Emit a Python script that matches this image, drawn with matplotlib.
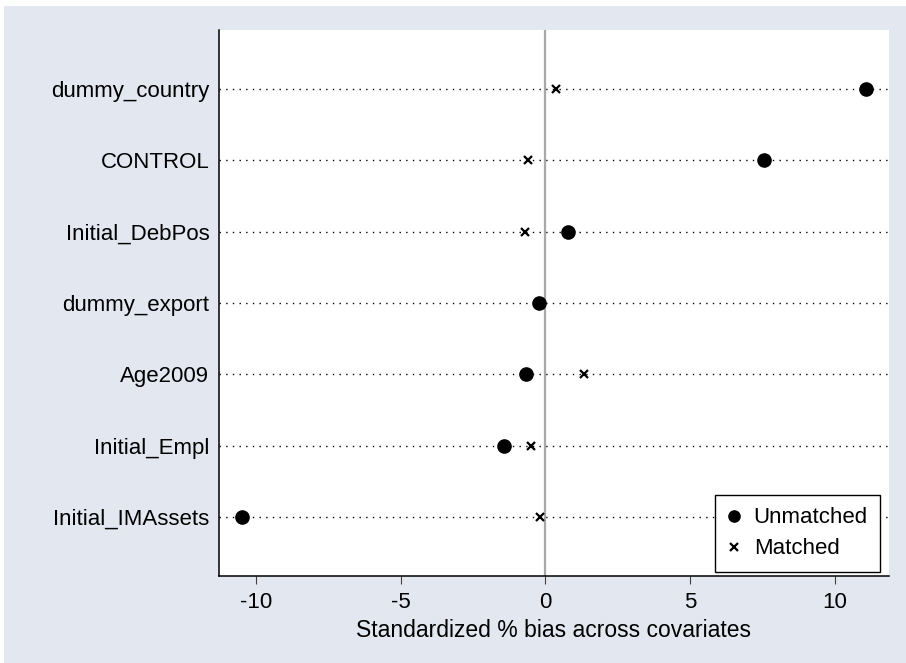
import matplotlib.pyplot as plt
from matplotlib.patches import Rectangle

# Covariates, top to bottom
covariates = ["dummy_country", "CONTROL", "Initial_DebPos", "dummy_export",
              "Age2009", "Initial_Empl", "Initial_IMAssets"]
# Standardized % bias before and after matching
unmatched = [11.1, 7.55, 0.78, -0.23, -0.68, -1.43, -10.5]
matched = [0.37, -0.61, -0.72, -0.2, 1.33, -0.50, -0.19]
xticks = [-10, -5, 0, 5, 10]

plt.rcParams["font.family"] = ["Liberation Sans", "DejaVu Sans"]
fs = 16

fig = plt.figure(figsize=(9.06, 6.63), dpi=100)
fig.patch.set_facecolor("white")
# light graph region behind the plot area
fig.patches.append(Rectangle((4 / 906, 0), 1, 1 - 6 / 663, transform=fig.transFigure,
                             facecolor="#e3e7f0", edgecolor="none", zorder=-1))

ax = fig.add_axes([219 / 906, 1 - 576 / 663, 670 / 906, 546 / 663])
ax.set_facecolor("white")

ypos = list(range(len(covariates), 0, -1))

for y in ypos:
    ax.axhline(y, color="black", lw=1.0, dashes=(1, 3.8), zorder=1)
ax.axvline(0, color="#a8a8a8", lw=1.6, zorder=2)

ax.plot(matched, ypos, linestyle="none", marker="x", color="black",
        markersize=6, markeredgewidth=1.6, label="Matched", zorder=3)
ax.plot(unmatched, ypos, linestyle="none", marker="o", color="black",
        markersize=9.5, label="Unmatched", zorder=4)

ax.set_xlim(-11.29, 11.88)
ax.set_ylim(0.175, 7.825)
ax.set_yticks(ypos)
ax.set_yticklabels(covariates, fontsize=fs)
ax.set_xticks(xticks)
ax.set_xticklabels([str(t) for t in xticks], fontsize=fs)
ax.tick_params(axis="y", length=0, pad=7)
ax.tick_params(axis="x", length=5.5, width=0.8, color="#404040", pad=6)
ax.set_xlabel("Standardized % bias across covariates", fontsize=16.5, labelpad=4)

for side in ["top", "right"]:
    ax.spines[side].set_visible(False)
for side in ["left", "bottom"]:
    ax.spines[side].set_linewidth(1.1)
    ax.spines[side].set_color("black")

handles, labels = ax.get_legend_handles_labels()
leg = ax.legend(handles[::-1], labels[::-1], loc="upper left",
                bbox_to_anchor=(0.740, 0.148), fontsize=fs, frameon=True,
                fancybox=False, edgecolor="black", framealpha=1,
                handlelength=0.6, handletextpad=0.6, borderpad=0.55,
                labelspacing=0.45, borderaxespad=0, markerscale=0.85)
leg.get_frame().set_linewidth(1.0)

fig.savefig("out.png", dpi=100)
